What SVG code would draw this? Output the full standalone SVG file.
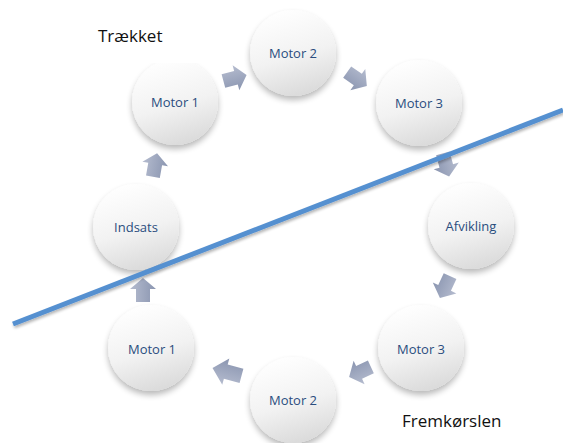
<svg xmlns="http://www.w3.org/2000/svg" width="563" height="443" viewBox="0 0 563 443">
  <defs>
    <linearGradient id="ballFill" x1="0.3" y1="0" x2="0.6" y2="1">
      <stop offset="0" stop-color="#ffffff"/>
      <stop offset="0.55" stop-color="#f2f2f2"/>
      <stop offset="1" stop-color="#dadada"/>
    </linearGradient>
    <linearGradient id="arrowFill" x1="0" y1="0" x2="0" y2="1">
      <stop offset="0" stop-color="#b5bccf"/>
      <stop offset="1" stop-color="#8a95b0"/>
    </linearGradient>
    <filter id="softShadow" x="-30%" y="-30%" width="160%" height="170%">
      <feGaussianBlur in="SourceAlpha" stdDeviation="3"/>
      <feOffset dx="0" dy="4" result="b"/>
      <feComponentTransfer><feFuncA type="linear" slope="0.28"/></feComponentTransfer>
      <feMerge><feMergeNode/><feMergeNode in="SourceGraphic"/></feMerge>
    </filter>
    <filter id="lineShadow" x="-5%" y="-20%" width="110%" height="140%">
      <feGaussianBlur in="SourceAlpha" stdDeviation="1.5"/>
      <feOffset dx="1" dy="2" result="b"/>
      <feComponentTransfer><feFuncA type="linear" slope="0.3"/></feComponentTransfer>
      <feMerge><feMergeNode/><feMergeNode in="SourceGraphic"/></feMerge>
    </filter>
    <clipPath id="topCut"><rect x="0" y="63" width="563" height="380"/></clipPath>
    <path id="blockArrow" d="M-12,-7 L1,-7 L1,-13 L12,0 L1,13 L1,7 L-12,7 Z"/>
  </defs>
  <style>
    .ball { fill: url(#ballFill); filter: url(#softShadow); }
    .lbl { font-family: "Open Sans", Lato, "Liberation Sans", sans-serif; font-size: 13px; fill: #2a4d7e; text-anchor: middle; dominant-baseline: central; }
    .cap { font-family: "Open Sans", Lato, "Liberation Sans", sans-serif; font-size: 17px; fill: #111111; }
    .arr { fill: url(#arrowFill); }
  </style>

  <rect width="563" height="443" fill="#ffffff"/>

  <!-- step arrows between the stages -->
  <g id="connectors">
    <use href="#blockArrow" class="arr" transform="translate(235,78) rotate(-15)"/>
    <use href="#blockArrow" class="arr" transform="translate(357,79) rotate(35)"/>
    <use href="#blockArrow" class="arr" transform="translate(446,165) rotate(75)"/>
    <use href="#blockArrow" class="arr" transform="translate(445,287) rotate(115)"/>
    <use href="#blockArrow" class="arr" transform="translate(360,372) rotate(155)"/>
    <use href="#blockArrow" class="arr" transform="translate(227,372) rotate(195) scale(1.25,1.05)"/>
    <use href="#blockArrow" class="arr" transform="translate(143,290) rotate(-90)"/>
    <use href="#blockArrow" class="arr" transform="translate(155,165) rotate(-80)"/>
  </g>

  <!-- stages -->
  <g id="n-motor1-top" clip-path="url(#topCut)">
    <circle class="ball" cx="175" cy="102" r="43"/>
    <text class="lbl" x="175" y="102">Motor 1</text>
  </g>
  <g id="n-motor2-top">
    <circle class="ball" cx="293" cy="53" r="43"/>
    <text class="lbl" x="293" y="53">Motor 2</text>
  </g>
  <g id="n-motor3-top">
    <circle class="ball" cx="419" cy="103" r="43"/>
    <text class="lbl" x="419" y="103">Motor 3</text>
  </g>
  <g id="n-afvikling">
    <circle class="ball" cx="471" cy="226" r="43"/>
    <text class="lbl" x="471" y="226">Afvikling</text>
  </g>
  <g id="n-motor3-bottom">
    <circle class="ball" cx="421" cy="348" r="43"/>
    <text class="lbl" x="421" y="349">Motor 3</text>
  </g>
  <g id="n-motor2-bottom">
    <circle class="ball" cx="293" cy="400" r="43"/>
    <text class="lbl" x="293" y="400">Motor 2</text>
  </g>
  <g id="n-motor1-bottom">
    <circle class="ball" cx="151" cy="348" r="43"/>
    <text class="lbl" x="152" y="349">Motor 1</text>
  </g>
  <g id="n-indsats">
    <circle class="ball" cx="136" cy="227" r="43"/>
    <text class="lbl" x="136" y="227">Indsats</text>
  </g>

  <!-- dividing line -->
  <g id="divider">
    <line x1="13" y1="324" x2="563" y2="110" stroke="#5590d0" stroke-width="5" filter="url(#lineShadow)"/>
  </g>

  <g id="captions">
    <text class="cap" x="98" y="42">Trækket</text>
    <text class="cap" x="402" y="427">Fremkørslen</text>
  </g>
</svg>
